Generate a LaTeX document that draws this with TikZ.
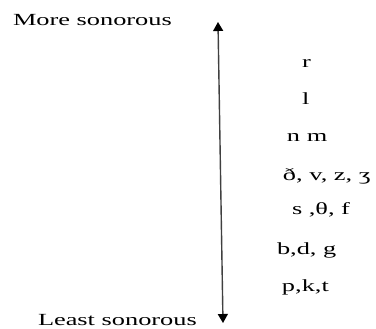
\documentclass[tikz,border=0pt]{standalone}
\usepackage{fontspec}
\usepackage{graphicx}
\setmainfont{Liberation Serif}
\usetikzlibrary{arrows.meta}
\begin{document}
\begin{tikzpicture}[x=1pt,y=1pt,
  lbl/.style={anchor=base west,inner sep=0pt,outer sep=0pt,font=\fontsize{17}{20}\selectfont},
  axis/.style={line width=1.4pt,draw=black!75,{Triangle[width=10pt,length=9pt,black]}-{Triangle[width=10pt,length=9pt,black]}}]
\useasboundingbox (0,0) rectangle (376,-329);
\newcommand{\wide}[1]{\scalebox{1.55}[1]{#1}}
\node[lbl] (more) at (13,-26) {\wide{More sonorous}};
\node[lbl] (least) at (38,-325.5) {\wide{Least sonorous}};
\coordinate (top) at (218,-22);
\coordinate (bot) at (223,-323);
\draw[axis] (top) -- (bot);
\node[lbl] (r) at (302,-68) {\wide{r}};
\node[lbl] (l) at (302,-105) {\wide{l}};
\node[lbl] (nm) at (287,-142) {\wide{n m}};
\node[lbl] (voicedfric) at (283,-181) {\wide{ð, v, z, ʒ}};
\node[lbl] (vlfric) at (292,-215) {\wide{s ,θ, f}};
\node[lbl] (voicedstop) at (277,-255) {\wide{b,d, g}};
\node[lbl] (vlstop) at (282,-292) {\wide{p,k,t}};
\end{tikzpicture}
\end{document}
